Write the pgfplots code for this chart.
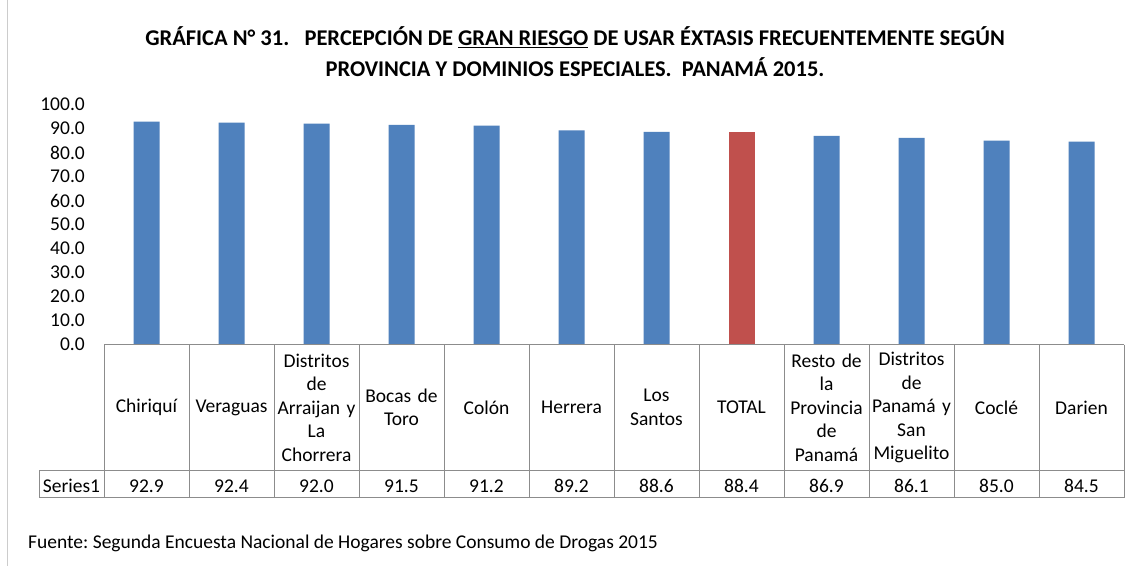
\documentclass[border=0pt]{standalone}
\usepackage{pgfplots}
\pgfplotsset{compat=1.18}
\usepackage{pgfplotstable}
\usepackage{fontspec}
\setmainfont{Carlito}
\frenchspacing
\definecolor{barblue}{HTML}{4F81BD}
\definecolor{barred}{HTML}{C0504D}
\definecolor{gridgray}{HTML}{8C8C8C}

\pgfplotstableread{
x v
0 92.9
1 92.4
2 92.0
3 91.5
4 91.2
5 89.2
6 88.6
7 88.4
8 86.9
9 86.1
10 85.0
11 84.5
}\datatab

\begin{document}
\begin{tikzpicture}
\fill[white] (0pt,0pt) rectangle (1130pt,565pt);
\draw[gray!40, line width=1pt] (7pt,0pt) -- (7pt,565pt);
\begin{axis}[
  at={(104pt,221pt)}, anchor=south west,
  scale only axis, width=1020pt, height=240pt,
  xmin=-0.5, xmax=11.5, ymin=0, ymax=100,
  clip=false,
  axis line style={draw=none},
  major tick style={draw=none},
  ytick={0,10,...,100},
  /pgf/number format/assume math mode=true,
  yticklabel={\pgfmathprintnumber[fixed,fixed zerofill,precision=1]{\tick}},
  yticklabel style={anchor=east, inner sep=0pt, xshift=-19pt, font=\fontsize{19.5}{23.5}\selectfont},
  xtick={0,...,11},
  xticklabels={Chiriquí, Veraguas, {Distritos\\de\\Arraijan y\\La\\Chorrera}, {Bocas de\\Toro}, Colón, Herrera, {Los\\Santos}, TOTAL, {Resto de\\la\\Provincia\\de\\Panamá}, {Distritos\\de\\Panamá y\\San\\Miguelito}, Coclé, Darien},
  xticklabel style={anchor=center, align=center, text width=84pt, inner sep=0pt, yshift=-63pt, font=\fontsize{19.5}{23.5}\selectfont},
  bar width=26pt,
]
\addplot[ybar, bar shift=0pt, fill=barblue, draw=none] coordinates {
 (0,92.9) (1,92.4) (2,92.0) (3,91.5) (4,91.2) (5,89.2) (6,88.6)
 (8,86.9) (9,86.1) (10,85.0) (11,84.5)};
\addplot[ybar, bar shift=0pt, fill=barred, draw=none] coordinates {(7,88.4)};
\addplot[draw=none, mark=none, nodes near coords={\pgfmathprintnumber[fixed,fixed zerofill,precision=1]{\pgfplotspointmeta}},
  point meta=explicit,
  every node near coord/.append style={anchor=center, yshift=-141pt, inner sep=0pt, text height=13pt, text depth=0pt, font=\fontsize{19.5}{23.5}\selectfont}]
  table[x=x, y expr=0, meta=v] {\datatab};
\end{axis}
% data table grid
\begin{scope}[gridgray, line width=1pt]
\draw (104pt,221pt) -- (1124pt,221pt);
\draw (39pt,95pt) -- (1124pt,95pt);
\draw (39pt,68pt) -- (1124pt,68pt);
\draw (39pt,68pt) -- (39pt,95pt);
\foreach \k in {0,...,12} {\draw ({(104+85*\k)*1pt},221pt) -- ({(104+85*\k)*1pt},68pt);}
\end{scope}
\node[font=\fontsize{19.5}{23.5}\selectfont] at (71.5pt,80pt) {Series1};
\node[align=center, font=\bfseries\fontsize{22.5}{30.5}\selectfont] at (575pt,514pt)
  {GRÁFICA N° 31.\ \ \ PERCEPCIÓN DE \underline{GRAN RIESGO} DE USAR ÉXTASIS FRECUENTEMENTE SEGÚN\\PROVINCIA Y DOMINIOS ESPECIALES.\ \ PANAMÁ 2015.};
\node[anchor=west, inner sep=0pt, font=\fontsize{19.5}{22}\selectfont] at (28pt,22pt)
  {Fuente: Segunda Encuesta Nacional de Hogares sobre Consumo de Drogas 2015};
\end{tikzpicture}
\end{document}
